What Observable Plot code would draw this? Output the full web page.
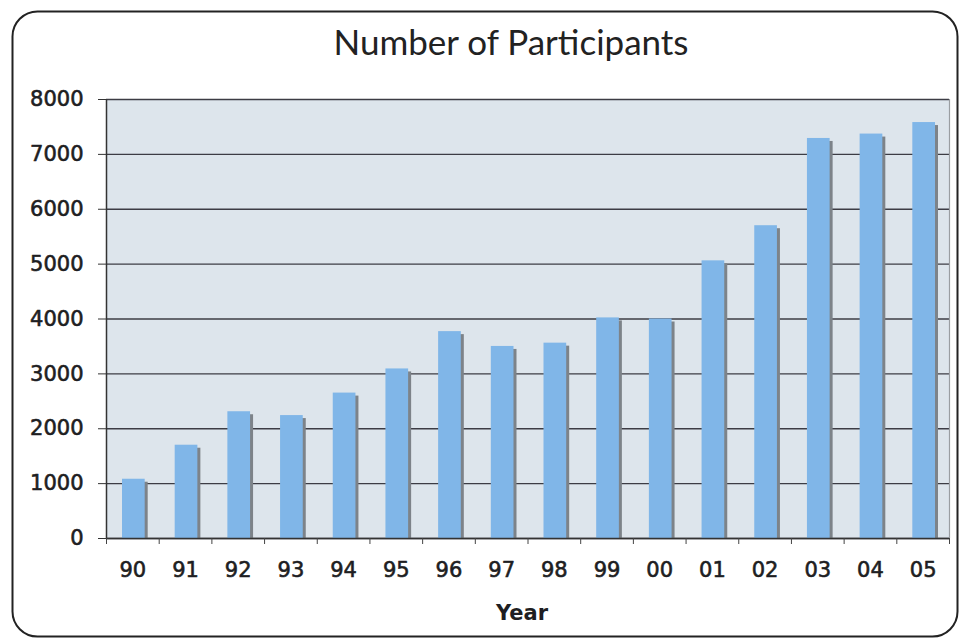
<!DOCTYPE html>
<html>
<head>
<meta charset="utf-8">
<script src="https://cdn.jsdelivr.net/npm/d3@7"></script>
<script src="https://cdn.jsdelivr.net/npm/@observablehq/plot@0.6"></script>
<style>
  html, body { margin: 0; padding: 0; background: #fff; }
</style>
</head>
<body>
<div id="chart"></div>
<script>
const title = "Number of Participants";
const xTitle = "Year";
const years = ["90","91","92","93","94","95","96","97","98","99","00","01","02","03","04","05"];
const participants = [1080, 1700, 2310, 2240, 2650, 3090, 3770, 3500, 3560, 4020, 4000, 5060, 5700, 7290, 7370, 7580];
const yTicks = [0, 1000, 2000, 3000, 4000, 5000, 6000, 7000, 8000];

const data = years.map((y, i) => ({year: y, i, value: participants[i]}));
const boundaries = d3.range(years.length + 1);
const centers = d3.range(years.length).map(i => i + 0.5);

const chart = Plot.plot({
  width: 964,
  height: 638,
  marginLeft: 106,
  marginRight: 15,
  marginTop: 99,
  marginBottom: 100,
  style: {fontFamily: "'DejaVu Sans', Verdana, sans-serif", background: "#fff", overflow: "visible"},
  x: {type: "linear", domain: [0, years.length]},
  y: {domain: [0, 8000]},
  marks: [
    Plot.frame({fill: "#dde5ec", stroke: null}),
    Plot.gridY(yTicks, {stroke: "#3c3c44", strokeOpacity: 1, strokeWidth: 1.3}),
    Plot.rectY(data, {x1: "i", x2: d => d.i + 1, y: "value", insetLeft: 16, insetRight: 14, dx: 3, insetTop: 3, fill: "#7d8389"}),
    Plot.rectY(data, {x1: "i", x2: d => d.i + 1, y: "value", insetLeft: 16, insetRight: 14, fill: "#80b6e8"}),
    Plot.ruleX([years.length], {stroke: "#9a9ea2", strokeWidth: 1.2}),
    Plot.ruleX([0], {stroke: "#333", strokeWidth: 1.5}),
    Plot.ruleY([0], {stroke: "#333", strokeWidth: 1.5}),
    Plot.axisY({ticks: yTicks, tickSize: 8, tickPadding: 15, fontSize: 21, stroke: "#333", fill: "#1e1e22", textStroke: "#1e1e22", textStrokeWidth: 0.6, label: null, tickFormat: d => String(d)}),
    Plot.axisX({ticks: boundaries, tickSize: 6, tickFormat: () => "", stroke: "#444", label: null}),
    Plot.axisX({ticks: centers, tickSize: 0, tickPadding: 24, fontSize: 21, fill: "#1e1e22", textStroke: "#1e1e22", textStrokeWidth: 0.6, label: null, tickFormat: d => years[Math.floor(d)]}),
    Plot.text([xTitle], {frameAnchor: "bottom", dy: 75, dx: -6, fontSize: 21, fontWeight: "bold", fill: "#1e1e22", lineAnchor: "middle"}),
    Plot.text([title], {frameAnchor: "top", dy: -56, dx: -17, fontSize: 35, fontFamily: "Lato, 'Open Sans', sans-serif", fill: "#222", lineAnchor: "middle"}),
    Plot.frame({rx: 25, insetLeft: -94, insetRight: -8, insetTop: -88, insetBottom: -98, stroke: "#222", strokeWidth: 2, fill: "none"})
  ]
});
document.getElementById("chart").appendChild(chart);
</script>
</body>
</html>
